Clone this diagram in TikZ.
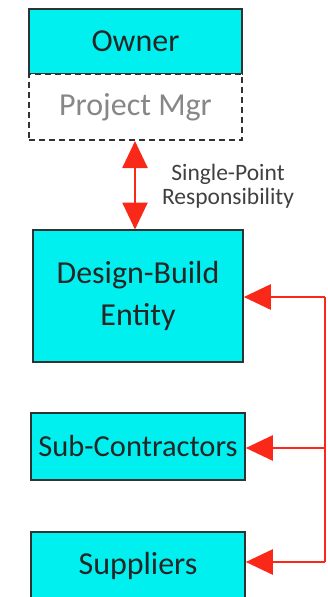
\documentclass[tikz,border=0pt]{standalone}
\usepackage{fontspec}
\setmainfont{Carlito}
\usetikzlibrary{arrows.meta}
\definecolor{boxcyan}{RGB}{0,240,240}
\definecolor{arrred}{RGB}{250,40,25}
\definecolor{edge}{RGB}{45,50,50}
\definecolor{pmgray}{RGB}{135,135,135}
\begin{document}
\begin{tikzpicture}[x=1pt,y=-1pt,
  box/.style={draw=edge,line width=1.6pt,fill=boxcyan,rectangle,inner sep=0pt,align=center,
    font=\fontsize{32}{42}\selectfont,text=black!85},
  pmbox/.style={draw=edge,line width=1.6pt,dash pattern=on 6pt off 4pt,fill=white,rectangle,inner sep=0pt,align=center,
    font=\fontsize{32}{42}\selectfont,text=pmgray},
  redarr/.style={draw=arrred,line width=2.6pt,-{Triangle[width=25pt,length=27pt]}},
  lbl/.style={align=center,font=\fontsize{23.5}{24}\selectfont,text=black!75}]
\useasboundingbox (0,0) rectangle (328,597);
\node[box,minimum width=213pt,minimum height=65pt] (owner) at (135.5,41.5) {Owner};
\node[pmbox,minimum width=213pt,minimum height=66pt] (pm) at (135.5,107) {Project Mgr};
\node[box,minimum width=210pt,minimum height=132pt] (db) at (138,296) {Design-Build\\Entity};
\node[box,minimum width=214pt,minimum height=67pt,font=\fontsize{30.5}{40}\selectfont] (sub) at (138,446.5) {Sub-Contractors};
\node[box,minimum width=214pt,minimum height=68pt] (sup) at (138,566) {Suppliers};
\node[lbl] (resp) at (228,186) {Single-Point\\Responsibility};
\draw[redarr,{Triangle[width=25pt,length=27pt]}-{Triangle[width=25pt,length=27pt]}] (135,141) -- (135,229.5);
\coordinate (b1) at (325,297);
\coordinate (b2) at (325,448);
\coordinate (b3) at (325,562);
\draw[draw=arrred,line width=2.6pt] (b1) -- (b3);
\draw[redarr] (b1) -- (db.east |- b1);
\draw[redarr] (b2) -- (sub.east |- b2);
\draw[redarr] (b3) -- (sup.east |- b3);
\end{tikzpicture}
\end{document}
